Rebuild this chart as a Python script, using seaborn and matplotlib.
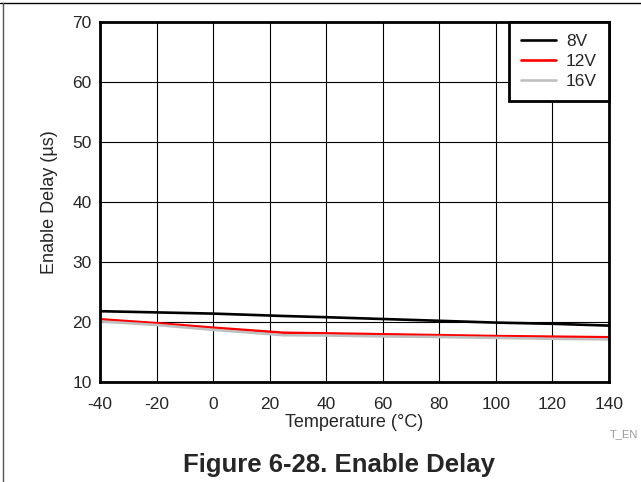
import matplotlib
matplotlib.use("Agg")
import matplotlib.pyplot as plt
import pandas as pd
import seaborn as sns

temps = [-40, -20, 0, 25, 40, 60, 80, 100, 120, 140]
delay_8v = [21.8, 21.6, 21.4, 21.0, 20.8, 20.5, 20.2, 19.9, 19.7, 19.4]
delay_12v = [20.45, 19.8, 19.05, 18.2, 18.1, 17.95, 17.8, 17.65, 17.55, 17.45]
delay_16v = [20.1, 19.5, 18.7, 17.8, 17.75, 17.6, 17.5, 17.35, 17.2, 17.1]
series = ["8V", "12V", "16V"]
colors = ["#000000", "#ff0000", "#bfbfbf"]

df = pd.DataFrame({
    "Temperature": temps * 3,
    "Delay": delay_8v + delay_12v + delay_16v,
    "Supply": [s for s in series for _ in temps],
})

sns.set_style("white")
plt.rcParams["font.family"] = ["Liberation Sans", "DejaVu Sans"]
plt.rcParams["axes.unicode_minus"] = False

fig = plt.figure(figsize=(6.41, 4.82), dpi=100)
ax = fig.add_axes([100 / 641, 100 / 482, 509 / 641, 360 / 482])

sns.lineplot(data=df, x="Temperature", y="Delay", hue="Supply",
             palette=dict(zip(series, colors)), linewidth=1.9, ax=ax)

ax.set_xlim(-40, 140)
ax.set_ylim(10, 70)
ax.set_xticks(range(-40, 141, 20))
ax.set_yticks(range(10, 71, 10))
ax.grid(True, color="#000000", linewidth=0.8)
ax.tick_params(axis="x", labelsize=12.5, length=0, pad=10.5)
ax.tick_params(axis="y", labelsize=12.5, length=0, pad=6)
for sp in ax.spines.values():
    sp.set_linewidth(2)
    sp.set_color("black")
    sp.set_visible(True)
ax.set_xlabel("Temperature (°C)", fontsize=13, labelpad=2)
ax.set_ylabel("Enable Delay (µs)", fontsize=13, labelpad=10)

leg = ax.legend(loc="upper right", bbox_to_anchor=(1.0, 1.0), fontsize=12.5,
                frameon=True, fancybox=False, borderaxespad=0,
                handlelength=2.0, handletextpad=0.57, labelspacing=0.28,
                borderpad=0.7)
leg.set_title(None)
leg.get_frame().set_edgecolor("black")
leg.get_frame().set_linewidth(2)
leg.get_frame().set_alpha(1)

fig.text(610 / 641, 1 - 434 / 482, "T_EN", fontsize=8, color="#999999",
         ha="left", va="center")
fig.text(495 / 641, 1 - 465 / 482, "Figure 6-28. Enable Delay", fontsize=18.5,
         fontweight="bold", ha="right", va="center")

# page frame lines (top and left)
fig.add_artist(plt.Line2D([0, 1], [1 - 2.5 / 482, 1 - 2.5 / 482],
                          transform=fig.transFigure, color="black", linewidth=1))
fig.add_artist(plt.Line2D([3 / 641, 3 / 641], [0, 1 - 2.5 / 482],
                          transform=fig.transFigure, color="#555555", linewidth=1))

fig.savefig("out.png", dpi=100)
